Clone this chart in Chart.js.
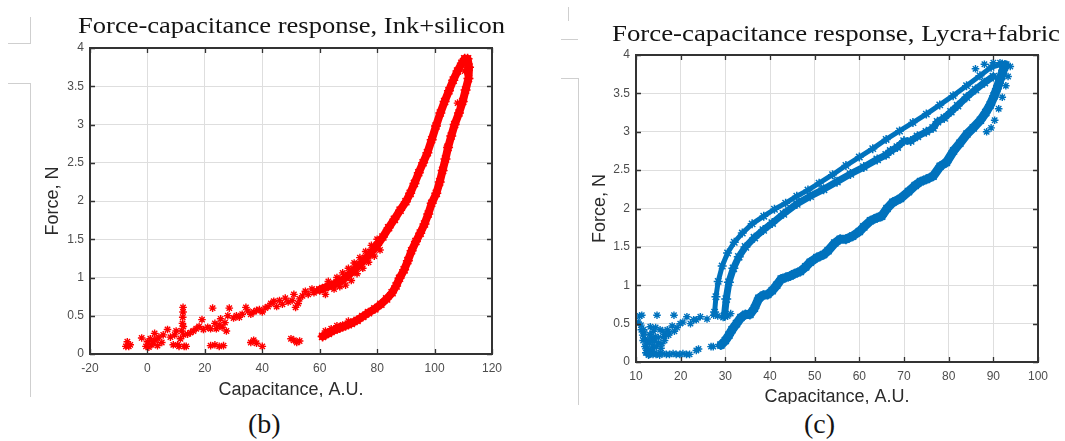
<!DOCTYPE html>
<html><head><meta charset="utf-8">
<script src="https://cdn.jsdelivr.net/npm/chart.js@4.4.0/dist/chart.umd.min.js"></script>
<style>
html,body{margin:0;padding:0;background:#fff;width:1065px;height:441px;overflow:hidden;position:relative}
.clip{position:absolute;overflow:hidden;top:0}
.title{position:absolute;font-family:"Liberation Serif",serif;font-size:23px;line-height:23px;white-space:nowrap;color:#141414;transform-origin:0 0}
.cap{position:absolute;font-family:"Liberation Serif",serif;font-size:28px;line-height:28px;color:#141414;white-space:nowrap}
.deco{position:absolute;background:#cfcfcf}
</style></head>
<body>
<div class="deco" style="left:30px;top:17px;width:1px;height:26px"></div>
<div class="deco" style="left:8px;top:43px;width:23px;height:1px"></div>
<div class="deco" style="left:8px;top:83px;width:23px;height:1px"></div>
<div class="deco" style="left:30px;top:83px;width:1px;height:314px"></div>
<div class="deco" style="left:568px;top:7px;width:1px;height:14px"></div>
<div class="deco" style="left:561px;top:39px;width:17px;height:1px"></div>
<div class="deco" style="left:561px;top:78px;width:17px;height:1px"></div>
<div class="deco" style="left:578px;top:78px;width:1px;height:327px"></div>

<div class="clip" style="left:0;width:530px;height:397px"><canvas id="cb" width="530" height="441"></canvas></div>
<div class="clip" style="left:530px;width:535px;height:404px"><canvas id="cc" width="535" height="441"></canvas></div>

<div class="title" id="tb" style="left:78px;top:14px">Force-capacitance response, Ink+silicon</div>
<div class="title" id="tc" style="left:612px;top:22px">Force-capacitance response, Lycra+fabric</div>
<div class="cap" style="left:248px;top:410px">(b)</div>
<div class="cap" style="left:804px;top:410px">(c)</div>

<script>
// ---------- Ink+silicon (b) ----------
const inkXTicks = [-20, 0, 20, 40, 60, 80, 100, 120];
const inkYTicks = [0, 0.5, 1, 1.5, 2, 2.5, 3, 3.5, 4];

const inkUpperX = [60,62,64,66,68,70,72,74,76,78,80,82,84,86,88,90,91.5,93,94.5,96,97.5,99,100.5,102,103.5,105,106.5,108,109.5,110.5];
const inkUpperY = [0.84,0.87,0.9,0.93,0.97,1.03,1.1,1.17,1.25,1.33,1.42,1.53,1.65,1.76,1.88,1.99,2.1,2.23,2.37,2.5,2.63,2.8,2.98,3.15,3.3,3.44,3.58,3.7,3.8,3.86];

const inkLowerX = [111.5,112,111.8,110.8,109.8,108.5,107,105.8,104.7,103.8,102.8,101.8,100.6,99,97.8,96.5,95,93.5,92,90.7,89.4,87.8,86.6,85.2,83.3,81.3,79.2,77,75,73,71,69,67,65,63,61];
const inkLowerY = [3.86,3.75,3.6,3.45,3.3,3.15,3.0,2.85,2.7,2.55,2.4,2.25,2.1,1.97,1.83,1.7,1.58,1.47,1.35,1.22,1.1,0.99,0.89,0.8,0.72,0.65,0.59,0.54,0.49,0.44,0.4,0.37,0.34,0.31,0.27,0.23];

const inkScatterX = [-7.5,-7,-6.5,-6,-2,-0.5,0,0.5,1,1.5,2,2.5,3,3.5,4,5,5.5,7,8,9,9.5,10,10.5,11,11.5,12,12.2,12.3,12.4,12.4,12.5,12.6,12.8,13.5,14,15,16,17,18,19,19.5,21,22,22.7,23.5,24,25,25.5,26,27,27.5,28,28.5,30,31,32,33,34.3,35,36,37,38,39,40,41,42,43,44,45,46,47,48,49,50.4,51,51.6,52.5,53,54,55,56,57.3,58,59,
  22,23.5,25,26.5,36,37,38,40,50,51,52,53,
  62,63,65,66,67,68,69,70,71,72,73,74,75,76,77,78,79,80,81,83,
  95.5,101.5,104.5,108,110.5,111.5,
  62,64,66,68,70];
const inkScatterY = [0.1,0.16,0.1,0.12,0.21,0.1,0.16,0.09,0.2,0.12,0.16,0.27,0.19,0.11,0.22,0.15,0.25,0.32,0.22,0.12,0.25,0.3,0.12,0.1,0.2,0.3,0.4,0.48,0.55,0.61,0.36,0.25,0.1,0.1,0.26,0.28,0.3,0.33,0.36,0.45,0.32,0.35,0.33,0.6,0.4,0.33,0.38,0.46,0.35,0.41,0.3,0.5,0.6,0.47,0.5,0.48,0.52,0.61,0.56,0.52,0.55,0.57,0.58,0.55,0.6,0.62,0.66,0.69,0.62,0.7,0.65,0.73,0.68,0.7,0.78,0.61,0.66,0.72,0.76,0.82,0.78,0.85,0.8,0.83,
  0.11,0.12,0.1,0.11,0.15,0.18,0.14,0.1,0.2,0.18,0.15,0.17,
  0.78,0.95,0.85,1.0,0.88,1.06,0.9,1.12,0.96,1.19,1.05,1.26,1.12,1.34,1.2,1.42,1.28,1.5,1.36,1.6,
  1.62,2.2,2.72,3.28,3.7,3.82,
  0.3,0.33,0.37,0.38,0.43];

// ---------- Lycra+fabric (c) ----------
const lycraXTicks = [10, 20, 30, 40, 50, 60, 70, 80, 90, 100];
const lycraYTicks = [0, 0.5, 1, 1.5, 2, 2.5, 3, 3.5, 4];

const lycraLowX = [29,30,30.8,31.5,32.5,33.5,34.5,35.5,36.5,37.5,38.5,39.5,40.5,41.5,42.5,43.5,44.5,45.5,46.8,48,49,50.5,52,53,54.5,55.7,57,58.5,60,61,62.5,64,65,66.2,67.5,69.2,71,72.5,73.7,75,76.5,78.1,79.5,81.1,82.5,84.1,85.5,87.1,88.3,89.3,90.2,90.8,91.5,92.2,92.6];
const lycraLowY = [0.22,0.28,0.35,0.42,0.5,0.58,0.62,0.62,0.7,0.83,0.87,0.88,0.93,1.0,1.08,1.1,1.12,1.15,1.18,1.24,1.3,1.36,1.4,1.45,1.55,1.6,1.6,1.64,1.7,1.76,1.84,1.88,1.9,2.0,2.08,2.13,2.22,2.3,2.35,2.38,2.42,2.55,2.6,2.75,2.85,2.97,3.05,3.15,3.25,3.35,3.47,3.56,3.68,3.8,3.87];

const lycraOutX = [27.6,27.9,28.4,29.3,30.5,32,33.8,36,38.6,41,43.5,46,48.5,51,54,57,60,63,66,69,72,75,78,81,84,87,89.5,92];
const lycraOutY = [0.65,0.85,1.05,1.25,1.42,1.56,1.68,1.8,1.9,1.99,2.07,2.16,2.24,2.33,2.44,2.56,2.67,2.78,2.9,3.01,3.12,3.23,3.35,3.47,3.6,3.73,3.84,3.88];

const lycraInX = [29.8,30.2,30.8,31.8,33,34.5,36.5,38.5,40.5,43,46,49,52,55,58,61,64,66,67,68.5,70,71.5,73,75,76.5,77.5,79,80.5,82,84,86,88,90];
const lycraInY = [0.6,0.82,1.04,1.22,1.37,1.5,1.62,1.72,1.81,1.93,2.06,2.16,2.25,2.35,2.45,2.54,2.64,2.7,2.75,2.8,2.88,2.88,2.94,3.0,3.05,3.13,3.18,3.26,3.34,3.45,3.55,3.64,3.72];

const lycraScatterX = [10.5,10.8,11.3,11.1,11.7,12.1,12.5,12.8,12.3,11.5,13.2,13.6,13.9,13.4,14.1,14.7,14.4,15.4,15.1,14.7,15.5,16.2,17,17.5,18.5,18.1,19.2,19.9,21.4,22.9,24.4,25.9,27.4,28.3,29.5,30.5,31.2,
  11.9,12.7,13.1,13.7,14.3,15.8,16.6,12.4,13,
  11.2,11.6,12,12.2,12.9,13.3,13.8,14.2,14.6,15,15.6,16,16.4,17.3,18.6,20.5,22.2,23.5,
  13,13.8,14.5,15.3,16,16.8,17.5,18.3,19,19.8,20.5,21.3,22,23.5,24,26.8,27.3,
  86,88,90,91.5,93,93.8,93.3,92.8,92,91.2,90.3,89.5,88.5];
const lycraScatterY = [0.52,0.6,0.61,0.48,0.42,0.3,0.17,0.09,0.22,0.35,0.46,0.3,0.4,0.15,0.2,0.61,0.45,0.42,0.25,0.11,0.12,0.33,0.42,0.38,0.61,0.47,0.45,0.5,0.59,0.55,0.59,0.56,0.61,0.6,0.58,0.6,0.63,
  0.38,0.28,0.36,0.22,0.33,0.24,0.36,0.12,0.25,
  0.42,0.28,0.2,0.12,0.16,0.34,0.14,0.27,0.2,0.32,0.18,0.4,0.28,0.35,0.4,0.52,0.5,0.55,
  0.1,0.1,0.1,0.09,0.11,0.1,0.1,0.11,0.1,0.1,0.11,0.1,0.1,0.15,0.17,0.2,0.2,
  3.82,3.88,3.9,3.9,3.88,3.85,3.72,3.6,3.45,3.3,3.15,3.05,3.0];

// ---------- helpers ----------
const RED = '#ff0000';
const BLUE = '#0072bd';
const pts = (xs, ys) => xs.map((x, i) => ({x: x, y: ys[i]}));

function bandSet(xs, ys, color, w, r) {
  return {data: pts(xs, ys), showLine: true, borderColor: color, backgroundColor: color,
    borderWidth: w, borderJoinStyle: 'round', borderCapStyle: 'round',
    pointStyle: 'star', pointRadius: r, pointBorderWidth: 1.5, pointBorderColor: color, pointBackgroundColor: color};
}
function scatterSet(xs, ys, color) {
  return {data: pts(xs, ys), showLine: false, borderColor: color, backgroundColor: color,
    pointStyle: 'star', pointRadius: 3.8, pointBorderWidth: 1.4, pointBorderColor: color};
}

const framePlugin = {
  id: 'frame',
  afterDatasetsDraw(chart) {
    const {ctx, chartArea: a, scales} = chart;
    const x = scales.x, y = scales.y;
    ctx.save();
    ctx.strokeStyle = '#333333';
    ctx.lineWidth = 1.3;
    ctx.beginPath();
    x.ticks.forEach(t => {
      const p = Math.round(x.getPixelForValue(t.value)) + 0.5;
      ctx.moveTo(p, a.bottom); ctx.lineTo(p, a.bottom - 5);
      ctx.moveTo(p, a.top); ctx.lineTo(p, a.top + 5);
    });
    y.ticks.forEach(t => {
      const p = Math.round(y.getPixelForValue(t.value)) + 0.5;
      ctx.moveTo(a.left, p); ctx.lineTo(a.left + 5, p);
      ctx.moveTo(a.right, p); ctx.lineTo(a.right - 5, p);
    });
    ctx.stroke();
    ctx.lineWidth = 2;
    ctx.strokeRect(a.left, a.top, a.right - a.left, a.bottom - a.top);
    ctx.restore();
  }
};

function makeChart(id, datasets, xr, yr, xTicks, yTicks, lay) {
  const tickFont = {family: '"Liberation Sans", Arial, sans-serif', size: 12};
  const titleFont = {family: '"Liberation Sans", Arial, sans-serif', size: 18};
  return new Chart(document.getElementById(id), {
    type: 'scatter',
    data: {datasets: datasets},
    options: {
      responsive: false, animation: false, events: [],
      layout: {padding: {left: 0, top: lay.top, right: lay.right, bottom: 0}},
      plugins: {legend: {display: false}, tooltip: {enabled: false}, title: {display: false}},
      scales: {
        x: {
          type: 'linear', min: xr[0], max: xr[1],
          afterBuildTicks: s => { s.ticks = xTicks.map(v => ({value: v})); },
          ticks: {font: tickFont, color: '#4d4d4d', padding: 7, maxRotation: 0, callback: v => String(v)},
          grid: {color: '#dedede', lineWidth: 1, drawTicks: false},
          border: {display: false},
          title: {display: true, text: 'Capacitance, A.U.', font: titleFont, color: '#2b2b2b', padding: {top: 0, bottom: lay.xTitlePad}},
          afterFit: s => { s.height = lay.xH; }
        },
        y: {
          type: 'linear', min: yr[0], max: yr[1],
          afterBuildTicks: s => { s.ticks = yTicks.map(v => ({value: v})); },
          ticks: {font: tickFont, color: '#4d4d4d', padding: 6, callback: v => String(v)},
          grid: {color: '#dedede', lineWidth: 1, drawTicks: false},
          border: {display: false},
          title: {display: true, text: 'Force, N', font: titleFont, color: '#2b2b2b', padding: {top: lay.yTitlePad, bottom: 0}},
          afterFit: s => { s.width = lay.yW; }
        }
      }
    },
    plugins: [framePlugin]
  });
}

makeChart('cb', [
  bandSet(inkUpperX, inkUpperY, RED, 8, 5),
  bandSet(inkLowerX, inkLowerY, RED, 8, 5),
  scatterSet(inkScatterX, inkScatterY, RED)
], [-20, 120], [0, 4], inkXTicks, inkYTicks,
  {top: 48, right: 38, xH: 87, yW: 90, xTitlePad: 40, yTitlePad: 42});

makeChart('cc', [
  bandSet(lycraLowX, lycraLowY, BLUE, 9, 5),
  bandSet(lycraOutX, lycraOutY, BLUE, 5, 4.5),
  bandSet(lycraInX, lycraInY, BLUE, 7, 5),
  scatterSet(lycraScatterX, lycraScatterY, BLUE)
], [10, 100], [0, 4], lycraXTicks, lycraYTicks,
  {top: 55, right: 27, xH: 79, yW: 106, xTitlePad: 33, yTitlePad: 59});

// stretch serif titles to the reference widths (Computer Modern is wider than Times)
[['tb', 427], ['tc', 448]].forEach(([id, w]) => {
  const el = document.getElementById(id);
  const cw = el.getBoundingClientRect().width;
  el.style.transform = 'scaleX(' + (w / cw) + ')';
});
</script>
</body></html>
